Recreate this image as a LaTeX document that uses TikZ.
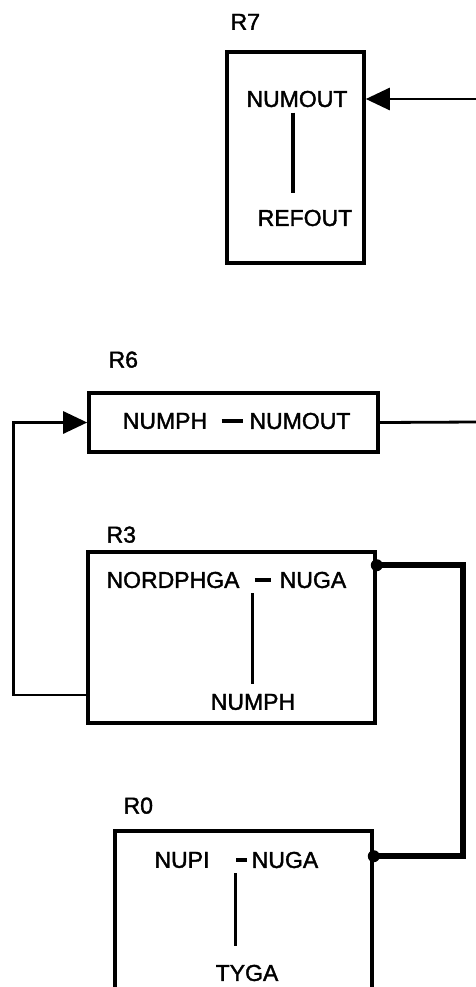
\documentclass[tikz,border=0pt]{standalone}
\usepackage{fontspec}
\setmainfont{Liberation Sans}
\newfontfamily\diagfont[FakeBold=1.6]{Liberation Sans}
\usepackage{tikz}
\usetikzlibrary{arrows.meta,positioning,calc}

\begin{document}
\begin{tikzpicture}[
    x=0.5pt, y=-0.5pt,
    box/.style={draw, line width=1.8pt, inner sep=0},
    word/.style={inner sep=0, font=\diagfont\fontsize{11.5}{13}\selectfont},
    tag/.style={inner sep=0, font=\diagfont\fontsize{11.5}{13}\selectfont},
    bar/.style={line width=1.6pt},
    wire/.style={line width=1.4pt},
    arr/.style={wire, -{Triangle[length=12pt,width=11pt]}},
    link/.style={line width=3pt},
    dot/.style={circle, fill, inner sep=0, minimum size=6pt}
]
    \path[use as bounding box] (0,0) rectangle (476,987);
    \clip (0,0) rectangle (476,987);

    % Boxes
    \node[box, minimum width=68.5pt, minimum height=105.5pt] (r7) at (295.5,157.5) {};
    \node[box, minimum width=144.5pt, minimum height=29.5pt] (r6) at (233.5,422.5) {};
    \node[box, minimum width=143.5pt, minimum height=85.5pt] (r3) at (231.5,637.5) {};
    \node[box, minimum width=128.5pt, minimum height=90pt] (r0) at (243.5,921) {};

    % Box names
    \node[tag, above right=10pt and 2.5pt of r7.north west] (l7) {R7};
    \node[tag, above right=11.5pt and 10.5pt of r6.north west] (l6) {R6};
    \node[tag, above right=3.5pt and 10pt of r3.north west] (l3) {R3};
    \node[tag, above right=7.5pt and 5pt of r0.north west] (l0) {R0};

    % Contents
    \node[word] (numout7) at (297,99) {NUMOUT};
    \node[word] (refout7) at (305,218) {REFOUT};
    \draw[bar] ($(numout7.south)+(-4,5)$) -- ($(numout7.south |- refout7.north)+(-4,-16)$);

    \node[word] (numph6) at (165,421) {NUMPH};
    \node[word] (numout6) at (300,421) {NUMOUT};
    \draw[bar] ($(numph6.east)+(14,0)$) -- ($(numout6.west)+(-6,0)$);

    \node[word] (nordphga3) at (173,580) {NORDPHGA};
    \node[word] (nuga3) at (313,580) {NUGA};
    \node[word] (numph3) at (253,702) {NUMPH};
    \draw[bar] ($(nordphga3.east)+(15,0)$) -- ($(nuga3.west)+(-8,0)$);
    \draw[bar] ($(nordphga3.east)+(13,13)$) -- ($(nordphga3.east |- numph3.north)+(13,-10)$);

    \node[word] (nupi0) at (182,860) {NUPI};
    \node[word] (nuga0) at (285,860) {NUGA};
    \node[word] (tyga0) at (247,973) {TYGA};
    \draw[bar] ($(nuga0.west)+(-15,0)$) -- ($(nuga0.west)+(-4,0)$);
    \draw[bar] ($(nuga0.west)+(-16,13)$) -- ($(nuga0.west |- tyga0.north)+(-16,-18)$);

    % Connectors
    \coordinate (in7) at (476,99);
    \coordinate (out6) at (476,422);
    \draw[arr] (in7) -- (in7 -| r7.east);
    \draw[wire] (r6.east) -- (out6);
    \draw[arr] ($(r3.west)+(0,57.5)$) -- ++(-73,0) |- (r6.west);
    \draw[link] ($(r3.north east)+(0,15)$) node[dot] {} -- ++(86,0) |- ($(r0.north east)+(0,27)$) node[dot] {};
\end{tikzpicture}
\end{document}
